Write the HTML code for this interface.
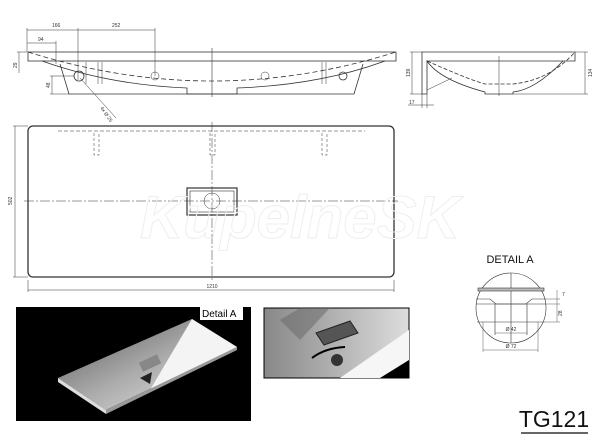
<!DOCTYPE html>
<html><head><meta charset="utf-8"><style>
html,body{margin:0;padding:0;background:#fff;width:600px;height:436px;overflow:hidden}
svg{display:block}
text{font-family:"Liberation Sans",sans-serif}
</style></head><body>
<svg width="600" height="436" viewBox="0 0 600 436" xmlns="http://www.w3.org/2000/svg">
<defs>
<linearGradient id="g1" x1="0" y1="0" x2="1" y2="1">
<stop offset="0" stop-color="#555"/><stop offset="0.5" stop-color="#aaa"/><stop offset="1" stop-color="#eee"/></linearGradient>
<linearGradient id="g2" x1="0" y1="0" x2="1" y2="0">
<stop offset="0" stop-color="#888"/><stop offset="1" stop-color="#ddd"/></linearGradient>
</defs>
<g stroke="#333" stroke-width="0.8" fill="none">
<!-- side view -->
<rect x="28" y="52" width="368" height="9"/>
<path d="M42 61 Q110 85 187 88 L187 94 L237 94 L237 88 Q320 85 385 61"/>
<path d="M60 64 L69 94 L354 94 L363 64"/>
<path d="M28 52 Q212 110 396 52" stroke-dasharray="5,3"/>
<line x1="212" y1="48" x2="212" y2="97" stroke-width="0.6"/>
<circle cx="79" cy="76" r="5"/><circle cx="155" cy="76" r="4" stroke-width="0.5"/><circle cx="265" cy="76" r="4" stroke-width="0.5"/><circle cx="343" cy="76" r="4"/>
<g stroke-width="0.5">
<line x1="27" y1="30" x2="155" y2="30"/><line x1="27" y1="28" x2="27" y2="52"/><line x1="78" y1="28" x2="78" y2="80"/><line x1="155" y1="28" x2="155" y2="76"/>
<line x1="27" y1="43" x2="56" y2="43"/><line x1="56" y1="41" x2="56" y2="64"/>
<line x1="19" y1="52" x2="19" y2="73"/><line x1="17" y1="52" x2="27" y2="52"/>
<line x1="50" y1="76" x2="74" y2="76"/><line x1="52" y1="76" x2="52" y2="94"/><line x1="50" y1="94" x2="69" y2="94"/>
<line x1="80" y1="78" x2="116" y2="118"/>
<line x1="86" y1="62" x2="86" y2="84"/><line x1="98" y1="62" x2="98" y2="84"/><line x1="102" y1="62" x2="102" y2="84"/>
<line x1="322" y1="62" x2="322" y2="84"/><line x1="326" y1="62" x2="326" y2="84"/>
</g>
</g>
<g font-size="5" fill="#333">
<text x="52" y="27">166</text><text x="112" y="27">252</text><text x="38" y="41">94</text>
<text x="17" y="68" transform="rotate(-90 17 68)">29</text>
<text x="50" y="88" transform="rotate(-90 50 88)">48</text>
<text x="100" y="108" transform="rotate(55 100 108)">4x Ø 25</text>
</g>
<!-- right view -->
<g stroke="#333" stroke-width="0.8" fill="none">
<path d="M422 52 L575 52 L575 61 L563 61 Q535 90 513 92 L513 94 L485 94 L485 92 Q440 80 427 61 L427 94 L422 94 Z"/>
<line x1="427" y1="61" x2="563" y2="61"/>
<path d="M427 61 Q470 80 485 84 L513 84 Q550 80 575 52" stroke-dasharray="4,2"/>
<line x1="427" y1="90" x2="452" y2="78" stroke-width="0.5"/>
<line x1="499" y1="56" x2="499" y2="96" stroke-width="0.5"/>
<g stroke-width="0.5">
<line x1="412" y1="52" x2="412" y2="94"/><line x1="410" y1="52" x2="422" y2="52"/><line x1="410" y1="94" x2="422" y2="94"/>
<line x1="585" y1="52" x2="585" y2="94"/><line x1="575" y1="52" x2="588" y2="52"/><line x1="513" y1="94" x2="588" y2="94"/>
<line x1="408" y1="105" x2="434" y2="105"/><line x1="422" y1="94" x2="422" y2="108"/><line x1="427" y1="94" x2="427" y2="108"/>
</g>
</g>
<g font-size="5" fill="#333">
<text x="410" y="77" transform="rotate(-90 410 77)">139</text>
<text x="592" y="77" transform="rotate(-90 592 77)">134</text>
<text x="409" y="104">17</text>
</g>
<!-- plan -->
<g stroke="#333" fill="none">
<rect x="28" y="126" width="366" height="151" rx="5" stroke-width="1.3"/>
<g stroke-width="0.5">
<line x1="58" y1="131" x2="365" y2="131" stroke-dasharray="4,2"/>
<line x1="212" y1="122" x2="212" y2="282" stroke-dasharray="10,2,2,2"/>
<line x1="24" y1="201" x2="398" y2="201" stroke-dasharray="10,2,2,2"/>
<path d="M94 133 V155 H99 V133 M210 133 V155 H215 V133 M322 133 V155 H327 V133" stroke-dasharray="3,2"/>
<line x1="15" y1="126" x2="15" y2="277"/><line x1="13" y1="126" x2="28" y2="126"/><line x1="13" y1="277" x2="28" y2="277"/>
<line x1="28" y1="290" x2="394" y2="290"/><line x1="28" y1="280" x2="28" y2="292"/><line x1="394" y1="280" x2="394" y2="292"/>
</g>
<rect x="187" y="188" width="50" height="27" stroke-width="1.2"/>
<rect x="190" y="191" width="44" height="21" stroke-width="0.6"/>
<circle cx="212" cy="201" r="8" stroke-width="0.5"/>
</g>
<text x="212" y="288" font-size="5" fill="#333" text-anchor="middle">1210</text>
<text x="12" y="205" font-size="5" fill="#333" transform="rotate(-90 12 205)">502</text>
<text x="300" y="238" font-size="60" font-style="italic" font-weight="bold" fill="none" stroke="#eee" stroke-width="1" text-anchor="middle">KupelneSK</text>
<!-- detail A -->
<text x="510" y="263" font-size="11" fill="#111" text-anchor="middle">DETAIL A</text>
<g stroke="#333" stroke-width="0.6" fill="none">
<circle cx="511" cy="308" r="35"/>
<line x1="511" y1="273" x2="511" y2="343"/>
<rect x="478" y="288" width="66" height="3" fill="#bbb"/>
<path d="M476 299 L490 299 L496 304 L526 304 L532 299 L546 299"/>
<line x1="476" y1="304" x2="546" y2="304"/>
<line x1="477" y1="322" x2="545" y2="322"/>
<line x1="495" y1="304" x2="495" y2="335"/><line x1="527" y1="304" x2="527" y2="335"/>
<line x1="495" y1="333" x2="527" y2="333" stroke-width="0.4"/>
<line x1="483" y1="350" x2="538" y2="350" stroke-width="0.4"/>
<line x1="483" y1="322" x2="483" y2="352" stroke-width="0.4"/><line x1="538" y1="322" x2="538" y2="352" stroke-width="0.4"/>
<line x1="557" y1="290" x2="557" y2="322" stroke-width="0.4"/>
<line x1="546" y1="299" x2="560" y2="299" stroke-width="0.4"/><line x1="546" y1="304" x2="560" y2="304" stroke-width="0.4"/><line x1="545" y1="322" x2="560" y2="322" stroke-width="0.4"/>
</g>
<g font-size="5" fill="#333">
<text x="511" y="331" text-anchor="middle">Ø 42</text>
<text x="511" y="348" text-anchor="middle">Ø 72</text>
<text x="562" y="296">7</text><text x="562" y="316" transform="rotate(-90 562 316)">28</text>
</g>
<!-- image 1 -->
<rect x="16" y="307" width="235" height="114" fill="#000"/>
<polygon points="58,378 106,410 237,347 192,319" fill="url(#g1)"/>
<polygon points="192,319 237,347 150,390" fill="#f4f4f4"/>
<polygon points="58,378 106,410 106,414 58,382" fill="#ddd"/>
<polygon points="106,410 237,347 237,350 106,414" fill="#999"/>
<rect x="140" y="358" width="20" height="10" fill="#888" transform="rotate(-25 150 363)"/>
<path d="M140 378 L152 372 L150 384 Z" fill="#222"/>
<rect x="200" y="307" width="43" height="13" fill="#fff"/>
<text x="202" y="317" font-size="10" fill="#000">Detail A</text>
<!-- image 2 -->
<rect x="264" y="308" width="145" height="70" fill="url(#g2)" stroke="#000" stroke-width="1"/>
<polygon points="340,378 409,330 409,378" fill="#f6f6f6"/>
<polygon points="380,378 409,360 409,378" fill="#000"/>
<polygon points="280,320 300,308 330,308 300,340" fill="#666" opacity="0.5"/>
<polygon points="316,333 350,321 358,333 324,345" fill="#555" stroke="#222"/>
<path d="M312 358 Q325 348 345 347" stroke="#000" stroke-width="2" fill="none"/>
<circle cx="337" cy="360" r="6" fill="#333"/>
<!-- title -->
<text x="554" y="427" font-size="23" fill="#111" text-anchor="middle">TG121</text>
<line x1="521" y1="433" x2="588" y2="433" stroke="#333" stroke-width="1.5"/>
</svg>
</body></html>
